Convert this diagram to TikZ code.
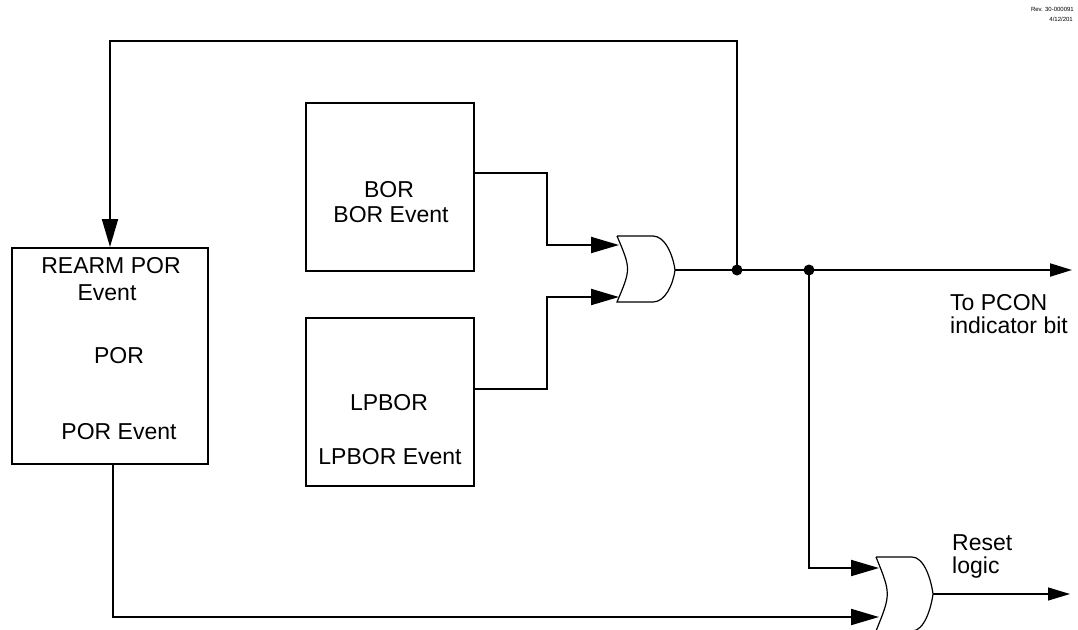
\documentclass[tikz,border=0pt]{standalone}
\usepackage{fontspec}
\setmainfont{Liberation Sans}
\usetikzlibrary{arrows.meta,calc}
\begin{document}
\begin{tikzpicture}[x=1pt,y=-1pt,
  wire/.style={line width=2pt},
  thinwire/.style={line width=1.3pt},
  inarrow/.style={-{Triangle[length=28pt,width=16pt]}},
  outarrow/.style={-{Triangle[length=22pt,width=13pt]}},
  blockbox/.style={draw, line width=2pt, inner sep=0pt, anchor=north west},
  lbl/.style={font=\fontsize{23}{27}\selectfont, inner sep=0pt, anchor=base},
  lbll/.style={lbl, anchor=base west},
  revtxt/.style={font=\fontsize{6}{7}\selectfont, inner sep=0pt, anchor=base east},
  gateline/.style={line width=1.2pt, fill=white},
  jdot/.style={circle, fill, inner sep=0pt, minimum size=11pt}]
\useasboundingbox (0,0) rectangle (1078,629);

% revision text
\node[revtxt] (rev1) at (1074,12) {Rev. 30-000091};
\node[revtxt] (rev2) at (1073,21) {4/12/201};

% blocks
\node[blockbox, minimum width=196pt, minimum height=216pt] (por) at (11,247) {};
\node[blockbox, minimum width=168pt, minimum height=168pt] (bor) at (305,102) {};
\node[blockbox, minimum width=168pt, minimum height=168pt] (lpbor) at (305,317) {};

% block texts
\node[lbl] (t1) at (111,273) {REARM POR};
\node[lbl] (t2) at (107,300) {Event};
\node[lbl] (t3) at (119,363) {POR};
\node[lbl] (t4) at (119,439) {POR Event};
\node[lbl] (t5) at (389,197) {BOR};
\node[lbl] (t6) at (391,222) {BOR Event};
\node[lbl] (t7) at (389,410) {LPBOR};
\node[lbl] (t8) at (390,464) {LPBOR Event};
\node[lbll] (t9) at (950,310) {To PCON};
\node[lbll] (t10) at (950,333) {indicator bit};
\node[lbll] (t11) at (952,550) {Reset};
\node[lbll] (t12) at (952,573) {logic};

% OR gate 1
\draw[gateline] (617,236) -- (653,236) .. controls (665,236) and (673,255) .. (675,270)
  .. controls (673,285) and (665,302) .. (653,302) -- (617,302)
  .. controls (631,269) .. (617,236);
\coordinate (g1a) at (619,245);
\coordinate (g1b) at (619,297);
\coordinate (g1o) at (675,270);

% OR gate 2
\draw[gateline] (876,557) -- (912,557) .. controls (924,557) and (931,579) .. (933,594)
  .. controls (931,609) and (924,631) .. (912,631) -- (876,631)
  .. controls (891,594) .. (876,557);
\coordinate (g2a) at (879,568);
\coordinate (g2b) at (879,617);
\coordinate (g2o) at (933,594);

% junctions and free ends
\node[jdot] (j1) at (737,270) {};
\node[jdot] (j2) at (809,270) {};
\coordinate (pcon) at (1072,270);
\coordinate (rst) at (1070,594);
\coordinate (fbtop) at (737,41);
\coordinate (bo) at ($(bor.north east)+(0,71)$);
\coordinate (lo) at ($(lpbor.north east)+(0,72)$);
\coordinate (po) at ($(por.south west)+(102,0)$);

% connectors
\draw[wire] (g1o) -- (j1.center) -- (j2.center);
\draw[wire, outarrow] (j2.center) -- (pcon);
\draw[wire, inarrow] (j1.center) -- (fbtop) -| (por.north);
\draw[wire, inarrow] (bo) -- ++(72,0) |- (g1a);
\draw[wire, inarrow] (lo) -- ++(72,0) |- (g1b);
\draw[wire, inarrow] (j2.center) |- (g2a);
\draw[wire, inarrow] (po) |- (g2b);
\draw[thinwire, outarrow] (g2o) -- (rst);
\end{tikzpicture}
\end{document}
